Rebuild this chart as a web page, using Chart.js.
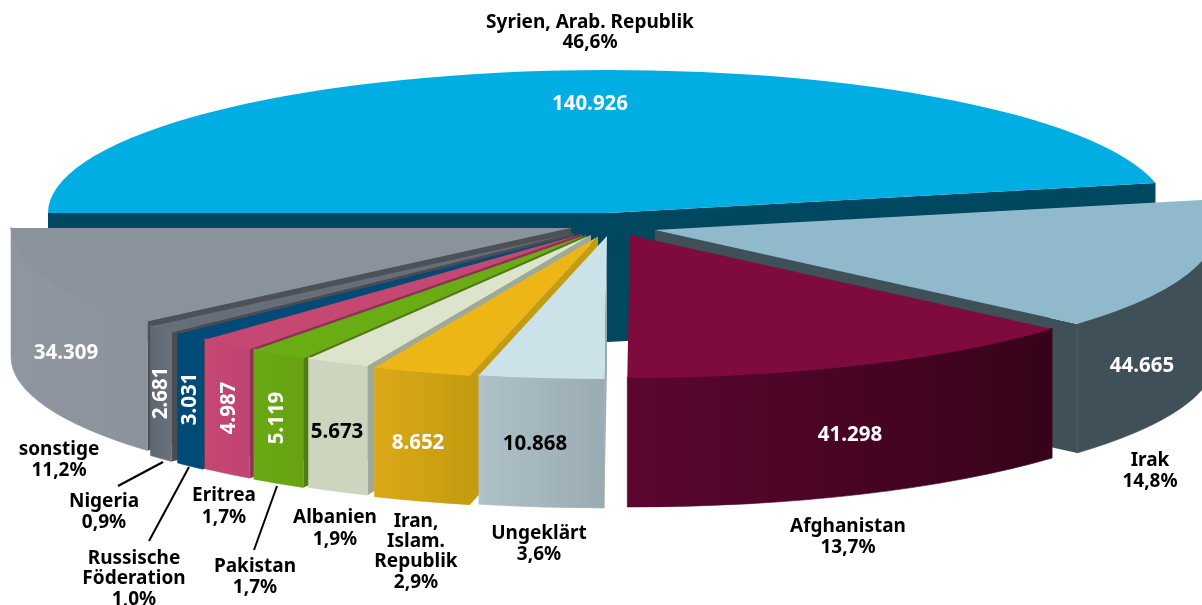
<!DOCTYPE html>
<html lang="de">
<head>
<meta charset="utf-8">
<title>Asylanträge nach Herkunftsland</title>
<script src="https://cdn.jsdelivr.net/npm/chart.js@4"></script>
<style>
    html, body { margin: 0; padding: 0; background: #fff; overflow: hidden; }
    canvas { display: block; }
</style>
</head>
<body>
<canvas id="chart" width="1202" height="605"></canvas>
<script>
// DATEN
const categories = ["Syrien, Arab. Republik", "Irak", "Afghanistan", "Ungeklärt", "Iran, Islam. Republik", "Albanien", "Pakistan", "Eritrea", "Russische Föderation", "Nigeria", "sonstige"];
const values = [140926, 44665, 41298, 10868, 8652, 5673, 5119, 4987, 3031, 2681, 34309];
const percents = ["46,6%", "14,8%", "13,7%", "3,6%", "2,9%", "1,9%", "1,7%", "1,7%", "1,0%", "0,9%", "11,2%"];

// FARBEN
const topColors = ["#00aee3", "#90bacb", "#7e0a3e", "#cbe2e9", "#edb616", "#dce4ce", "#6aac14", "#c54873", "#004a78", "#666e7a", "#8a929b"];
const sideColors = ["#00485f", "#3f5058", "#5c0630", "#9aabb2", "#c49c12", "#a0a89a", "#4e7c10", "#8c3355", "#36393e", "#4a4c52", "#4d5056"];
const wallColors = [
    ["#00485f", "#00485f"], ["#3f5058", "#3f5058"], ["#5c0630", "#36031a"], ["#afc2c9", "#9aabb2"],
    ["#dca818", "#c49c10"], ["#cdd5bf", "#cdd5bf"], ["#6aa814", "#66a212"], ["#c54873", "#c04470"],
    ["#004a78", "#004a78"], ["#5e6672", "#6a727e"], ["#8f96a0", "#8a929b"]
];

// GEOMETRIE
const squash = 0.2554;
const depth = 129;
const centers = [[608,213],[655,230],[630,235],[607,236],[598,236.5],[591,235],[586,235],[582,234],[580,234.5],[574,233],[571,228]];
const drawOrder = [0, 1, 2, 10, 9, 8, 7, 6, 5, 4, 3];

// TEXTE
const valuePos = [[590,104,0,"#fff"],[1142,366,0,"#fff"],[850,435,0,"#fff"],[535,444,0,"#000"],[418,443,0,"#fff"],[337,432,0,"#000"],[277,418,1,"#fff"],[229,408,1,"#fff"],[190,399,1,"#fff"],[161,393,1,"#fff"],[66,353,0,"#fff"]];
const labelLines = [
    [["Syrien, Arab. Republik",590,23],["46,6%",590,43]],
    [["Irak",1150,461],["14,8%",1150,482]],
    [["Afghanistan",848,527],["13,7%",848,548]],
    [["Ungeklärt",539,534],["3,6%",539,555]],
    [["Iran,",416,522],["Islam.",416,542],["Republik",416,562],["2,9%",416,583]],
    [["Albanien",335,518],["1,9%",335,540]],
    [["Pakistan",255,567],["1,7%",255,588]],
    [["Eritrea",224,496],["1,7%",224,518]],
    [["Russische",134,559],["Föderation",134,579],["1,0%",134,600]],
    [["Nigeria",104,502],["0,9%",104,523]],
    [["sonstige",59,450],["11,2%",59,471]]
];
const leaders = [[163,462,118,486],[189,467,149,541],[277,486,254,550]];

// SEITENWAND EINER SCHEIBE
function drawWalls(ctx, arc, i) {
    const [cx, cy] = centers[i];
    const r = arc.outerRadius, ry = r * squash;

    // nur die Schnittflächen, die nach vorne zeigen
    const faces = [];
    if (Math.cos(arc.startAngle) < 0) faces.push(arc.startAngle);
    if (Math.cos(arc.endAngle) > 0) faces.push(arc.endAngle);

    ctx.fillStyle = sideColors[i];
    faces.forEach(a => {
        const tx = cx + Math.cos(a) * r, ty = cy + Math.sin(a) * ry;
        ctx.beginPath();
        ctx.moveTo(cx, cy);
        ctx.lineTo(tx, ty);
        ctx.lineTo(tx, ty + depth);
        ctx.lineTo(cx, cy + depth);
        ctx.closePath();
        ctx.fill();
    });

    let a0 = arc.startAngle, a1 = arc.endAngle;
    if (a1 > Math.PI * 2) { a0 -= Math.PI * 2; a1 -= Math.PI * 2; }
    a0 = Math.max(a0, 0);
    a1 = Math.min(a1, Math.PI);
    if (a1 <= a0) return;

    const grad = ctx.createLinearGradient(cx + Math.cos(a1) * r, 0, cx + Math.cos(a0) * r, 0);
    grad.addColorStop(0, wallColors[i][0]);
    grad.addColorStop(1, wallColors[i][1]);
    ctx.fillStyle = grad;
    ctx.strokeStyle = grad;
    ctx.lineWidth = 0.6;
    ctx.beginPath();
    // etwas höher anfangen, damit keine Naht zur Deckfläche bleibt
    ctx.ellipse(cx, cy - 1, r, ry, 0, a0, a1);
    ctx.ellipse(cx, cy + depth, r, ry, 0, a1, a0, true);
    ctx.closePath();
    ctx.fill();
    ctx.stroke();
}

// GESAMTE TORTE ZEICHNEN
const pie3d = {
    id: "pie3d",
    beforeDatasetsDraw(chart) {
        const ctx = chart.ctx;
        const arcs = chart.getDatasetMeta(0).data;
        drawOrder.forEach(i => {
            const arc = arcs[i];
            const [cx, cy] = centers[i];
            drawWalls(ctx, arc, i);
            ctx.save();
            ctx.translate(cx, cy);
            ctx.scale(1, squash);
            ctx.translate(-arc.x, -arc.y);
            arc.draw(ctx);
            ctx.restore();
        });
        return false;
    },
    afterDraw(chart) {
        const ctx = chart.ctx;
        ctx.save();
        ctx.textAlign = "center";
        ctx.textBaseline = "middle";
        ctx.font = "bold 20.5px 'Noto Sans'";

        values.forEach((v, i) => {
            const [x, y, rotated, color] = valuePos[i];
            const txt = v.toLocaleString("de-DE");
            ctx.fillStyle = color;
            ctx.save();
            ctx.translate(x, y);
            if (rotated) ctx.rotate(-Math.PI / 2);
            ctx.fillText(txt, 0, 0);
            ctx.restore();
        });

        ctx.font = "bold 19px 'Noto Sans'";
        ctx.fillStyle = "#000";
        labelLines.forEach(lines => lines.forEach(([txt, x, y]) => ctx.fillText(txt, x, y)));

        ctx.strokeStyle = "#000";
        ctx.lineWidth = 2;
        leaders.forEach(([x1, y1, x2, y2]) => {
            ctx.beginPath();
            ctx.moveTo(x1, y1);
            ctx.lineTo(x2, y2);
            ctx.stroke();
        });
        ctx.restore();
    }
};

new Chart(document.getElementById("chart"), {
    type: "pie",
    data: {
        labels: categories,
        datasets: [{ data: values, backgroundColor: topColors, borderWidth: 0 }]
    },
    options: {
        responsive: false,
        animation: false,
        rotation: 270,
        radius: 560,
        layout: { padding: 0 },
        plugins: { legend: { display: false }, tooltip: { enabled: false } }
    },
    plugins: [pie3d]
});
</script>
</body>
</html>
